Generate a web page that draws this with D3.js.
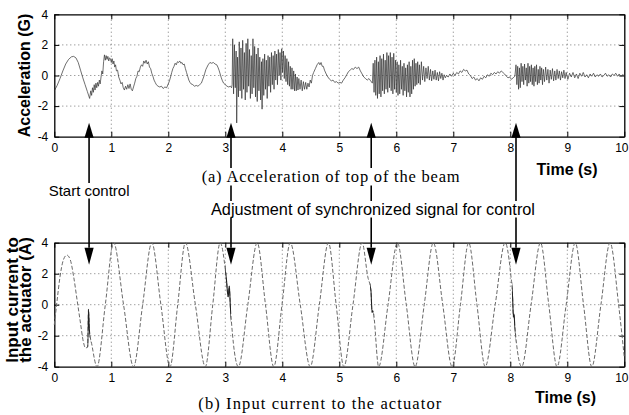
<!DOCTYPE html>
<html>
<head>
<meta charset="utf-8">
<script src="https://cdn.jsdelivr.net/npm/d3@7"></script>
<style>
  body { margin: 0; background: #fff; }
  svg { display: block; }
</style>
</head>
<body>
<svg id="chart" width="629" height="415"></svg>
<script>
// Tick values shared by both panels
const timeTicks = [0, 1, 2, 3, 4, 5, 6, 7, 8, 9, 10];
const valueTicks = [-4, -2, 0, 2, 4];
const gridTimes = [1, 2, 3, 4, 5, 6, 7, 8, 9];
const gridValues = [-2, 0, 2];

// Instants where control starts / the synchronized signal is adjusted (s)
const controlEvents = [0.61, 3.1, 5.56, 8.1];

// (a) Acceleration of the top of the beam: [time (s), acceleration (G)]
const acceleration = [
  [0,-1.0],[0.05,-0.65],[0.1,-0.2],[0.15,0.3],[0.2,0.75],[0.25,1.05],[0.3,1.22],[0.34,1.25],
  [0.38,1.15],[0.42,0.85],[0.46,0.35],[0.5,-0.15],[0.54,-0.6],[0.58,-1.05],[0.62,-1.5],
  [0.64,-1.0],[0.655,-1.3],[0.67,-0.8],[0.685,-1.1],[0.7,-0.6],[0.715,-0.95],[0.73,-0.5],
  [0.745,-0.8],[0.76,-0.45],[0.775,-0.7],[0.79,-0.3],[0.805,-0.55],[0.82,-0.1],[0.835,0.3],
  [0.85,0.1],[0.865,0.9],[0.88,1.35],[0.895,1.0],[0.91,1.3],[0.925,1.05],[0.94,1.25],
  [0.955,0.95],[0.97,1.15],[0.985,1.1],[1.0,0.85],[1.015,1.1],[1.03,0.75],[1.045,0.95],
  [1.06,0.55],[1.075,0.7],[1.09,0.3],[1.11,0.35],[1.13,-0.1],[1.15,-0.3],[1.17,-0.55],
  [1.19,-0.45],[1.21,-0.8],[1.23,-0.95],[1.25,-0.7],[1.27,-0.9],[1.29,-0.6],[1.31,-0.85],
  [1.33,-0.55],[1.35,-0.9],[1.37,-1.0],[1.39,-0.75],[1.41,-0.5],[1.43,-0.2],[1.45,-0.05],
  [1.47,0.3],[1.49,0.25],[1.51,0.55],[1.53,0.7],[1.55,0.6],[1.57,0.95],[1.59,0.8],[1.61,1.0],
  [1.63,0.75],[1.65,0.9],[1.67,0.55],[1.69,0.45],[1.71,0.15],[1.73,-0.05],[1.75,-0.3],
  [1.77,-0.45],[1.79,-0.6],[1.82,-0.7],[1.85,-0.75],[1.88,-0.7],[1.91,-0.85],[1.94,-0.75],
  [1.97,-0.8],[2.0,-0.55],[2.02,-0.35],[2.04,-0.1],[2.06,0.2],[2.08,0.45],[2.1,0.6],[2.12,0.8],
  [2.14,0.7],[2.16,0.9],[2.18,0.85],[2.2,0.95],[2.22,0.8],[2.24,0.85],[2.26,0.7],[2.28,0.75],
  [2.3,0.45],[2.32,0.2],[2.34,-0.05],[2.36,-0.3],[2.38,-0.45],[2.4,-0.55],[2.43,-0.6],
  [2.46,-0.7],[2.49,-0.65],[2.52,-0.7],[2.55,-0.6],[2.58,-0.5],[2.6,-0.3],[2.62,-0.1],
  [2.64,0.15],[2.66,0.4],[2.68,0.55],[2.7,0.7],[2.73,0.85],[2.76,0.8],[2.79,0.85],[2.82,0.75],
  [2.85,0.7],[2.87,0.55],[2.89,0.35],[2.91,0.1],[2.93,-0.15],[2.95,-0.35],[2.97,-0.5],
  [3.0,-0.6],[3.03,-0.7],[3.06,-0.75],[3.09,-0.7],[3.11,-0.8],
  [3.12,-0.6],[3.13,2.4],[3.145,-1.2],[3.16,2.0],[3.175,-0.8],[3.19,1.6],[3.2,-3.1],
  [3.215,1.2],[3.23,-1.4],[3.245,2.2],[3.26,-1.0],[3.275,1.8],[3.29,-1.5],[3.305,2.3],
  [3.32,-0.9],[3.335,1.5],[3.35,-1.6],[3.365,2.1],[3.38,-1.1],[3.395,2.4],[3.41,-0.7],
  [3.425,1.7],[3.44,-1.5],[3.455,1.3],[3.47,-1.2],[3.485,2.4],[3.5,-0.8],[3.515,1.9],
  [3.53,-1.4],[3.545,1.4],[3.56,-1.7],[3.575,1.8],[3.59,-1.0],[3.605,1.2],[3.62,-1.6],
  [3.635,0.9],[3.645,-2.2],[3.66,1.1],[3.675,-1.3],[3.69,1.4],[3.705,-0.9],[3.72,1.0],
  [3.735,-1.5],[3.75,1.3],[3.765,-0.7],[3.78,1.2],[3.795,-1.1],[3.81,1.5],[3.825,-0.6],
  [3.84,1.3],[3.855,-0.9],[3.87,1.6],[3.885,-0.3],[3.9,1.4],[3.915,-0.6],[3.93,1.7],
  [3.945,0.0],[3.96,1.5],[3.975,-0.3],[3.99,1.75],[4.005,0.2],[4.02,1.6],[4.035,-0.2],
  [4.05,1.3],[4.065,-0.4],[4.08,1.1],[4.095,-0.6],[4.11,0.9],[4.125,-0.7],[4.14,0.6],
  [4.155,-0.9],[4.17,0.5],[4.185,-0.9],[4.2,0.3],[4.215,-1.0],[4.23,0.1],[4.245,-1.0],
  [4.26,-0.1],[4.275,-0.95],[4.29,-0.2],[4.31,-0.9],[4.33,-0.3],[4.35,-1.0],[4.37,-0.4],
  [4.39,-0.9],[4.41,-0.45],[4.43,-0.9],[4.45,-0.5],[4.47,-0.75],[4.49,-0.3],[4.51,-0.5],
  [4.53,0.0],[4.55,0.2],[4.58,0.45],[4.61,0.7],[4.64,0.85],[4.66,0.7],[4.68,0.85],
  [4.7,0.6],[4.72,0.6],[4.74,0.35],[4.77,0.1],[4.8,-0.1],[4.83,-0.25],[4.86,-0.35],
  [4.89,-0.3],[4.92,-0.45],[4.95,-0.4],[4.98,-0.5],[5.01,-0.45],[5.04,-0.5],[5.07,-0.3],
  [5.1,-0.15],[5.13,0.05],[5.16,0.25],[5.19,0.35],[5.22,0.45],[5.25,0.4],[5.28,0.55],
  [5.31,0.45],[5.34,0.55],[5.37,0.3],[5.4,0.1],[5.43,-0.1],[5.46,-0.2],[5.49,-0.3],
  [5.52,-0.2],[5.55,-0.35],
  [5.58,-0.5],[5.595,0.8],[5.61,-1.1],[5.625,1.0],[5.64,-1.3],[5.655,1.2],[5.67,-1.5],
  [5.685,0.9],[5.7,-1.2],[5.715,1.3],[5.73,-1.4],[5.745,1.1],[5.76,-1.0],[5.775,1.4],
  [5.79,-1.2],[5.805,1.0],[5.82,-0.9],[5.835,1.5],[5.85,-1.1],[5.865,1.3],[5.88,-0.8],
  [5.895,1.5],[5.91,-1.0],[5.925,1.2],[5.94,-1.2],[5.955,1.45],[5.97,-0.9],[5.985,1.0],
  [6.0,-1.1],[6.015,0.9],[6.03,-1.3],[6.045,0.7],[6.06,-1.2],[6.075,1.0],[6.09,-0.9],
  [6.105,0.6],[6.12,-1.3],[6.135,0.8],[6.15,-1.0],[6.165,0.5],[6.18,-1.4],[6.195,0.7],
  [6.21,-1.1],[6.225,0.9],[6.24,-1.4],[6.255,0.6],[6.27,-1.2],[6.285,1.0],[6.3,-0.9],
  [6.315,1.1],[6.33,-0.7],[6.345,0.8],[6.36,-0.6],[6.375,0.9],[6.39,-0.5],[6.405,0.7],
  [6.42,-0.6],[6.44,0.9],[6.46,-0.3],[6.48,0.6],[6.5,-0.4],[6.52,0.5],[6.54,-0.2],[6.56,0.6],
  [6.58,-0.3],[6.6,0.4],[6.62,-0.35],[6.64,0.3],[6.66,-0.25],[6.68,0.35],[6.7,-0.3],
  [6.72,0.2],[6.74,-0.35],[6.76,0.25],[6.78,-0.2],[6.8,0.15],[6.82,-0.3],[6.84,0.05],
  [6.86,-0.15],
  [6.88,0.0],[6.91,-0.1],[6.94,0.1],[6.97,-0.05],[7.0,0.15],[7.03,0.0],[7.06,0.2],[7.09,0.1],
  [7.12,0.3],[7.15,0.2],[7.18,0.4],[7.21,0.3],[7.24,0.35],[7.27,0.1],[7.3,0.0],[7.33,-0.2],
  [7.36,-0.1],[7.39,-0.3],[7.42,-0.2],[7.45,-0.35],[7.48,-0.15],[7.51,-0.25],[7.54,-0.05],
  [7.57,-0.15],[7.6,0.05],[7.63,-0.05],[7.66,0.15],[7.69,0.05],[7.72,0.2],[7.75,0.1],
  [7.78,0.25],[7.81,0.15],[7.84,0.3],[7.87,0.2],[7.9,0.1],[7.93,-0.05],[7.96,-0.15],
  [7.99,-0.1],[8.02,-0.25],[8.05,-0.15],[8.08,-0.05],
  [8.1,0.7],[8.115,-0.6],[8.13,0.6],[8.145,-0.9],[8.16,0.5],[8.175,-0.8],[8.19,0.8],
  [8.205,-0.4],[8.22,0.6],[8.235,-0.6],[8.25,0.75],[8.265,-0.3],[8.28,0.5],[8.295,-0.7],
  [8.31,0.8],[8.325,-0.5],[8.34,0.6],[8.355,-0.4],[8.37,0.7],[8.385,-0.6],[8.4,0.5],
  [8.415,-0.7],[8.43,0.6],[8.445,-0.4],[8.46,0.7],[8.475,-0.6],[8.49,0.4],[8.505,-0.5],
  [8.52,0.6],[8.535,-0.3],[8.55,0.5],[8.565,-0.6],[8.58,0.4],[8.6,-0.4],[8.62,0.55],
  [8.64,-0.3],[8.66,0.4],[8.68,-0.5],[8.7,0.35],[8.72,-0.25],[8.74,0.45],[8.76,-0.35],
  [8.78,0.3],[8.8,-0.3],[8.82,0.4],[8.84,-0.2],[8.86,0.3],[8.88,-0.3],[8.9,0.25],[8.92,-0.15],
  [8.94,0.35],[8.96,-0.2],[8.98,0.2],
  [9.01,-0.25],[9.04,0.15],[9.07,-0.1],[9.1,0.2],[9.13,-0.15],[9.16,0.1],[9.19,-0.2],
  [9.22,0.15],[9.25,-0.05],[9.28,0.2],[9.31,-0.1],[9.34,0.05],[9.37,-0.15],[9.4,0.1],
  [9.43,-0.05],[9.46,0.15],[9.49,-0.1],[9.52,0.05],[9.55,-0.05],[9.58,0.1],[9.61,-0.1],
  [9.64,0.0],[9.67,0.15],[9.7,-0.05],[9.73,0.05],[9.76,-0.1],[9.79,0.1],[9.82,0.0],
  [9.85,0.15],[9.88,-0.05],[9.91,0.1],[9.94,-0.05],[9.97,0.05],[10.0,0.0]
];

// (b) Input current to the actuator: [time (s), current (A)]
const current = [
  [0,-1.3],[0.05,0.3],[0.1,1.8],[0.16,2.9],[0.22,3.2],[0.28,2.9],[0.34,1.8],[0.4,0.3],
  [0.46,-1.2],[0.51,-2.4],[0.55,-2.8],[0.585,-2.7],[0.6,-0.3],[0.615,-1.6],[0.66,-2.6],
  [0.75,-4],[0.895,0],[1.04,4],[1.215,0],[1.39,-4],[1.55,0],[1.71,4],[1.87,0],[2.03,-4],
  [2.165,0],[2.3,4],[2.475,0],[2.65,-4],[2.78,0],[2.91,4],[3.02,1.6],[3.05,0.5],[3.07,1.2],
  [3.09,-0.2],[3.23,-4],[3.395,0],[3.56,4],[3.705,0],[3.85,-4],[3.995,0],[4.14,4],[4.315,0],
  [4.49,-4],[4.65,0],[4.81,4],[4.945,0],[5.08,-4],[5.24,0],[5.4,4],[5.5,1.8],[5.555,0.9],
  [5.575,-0.5],[5.59,-0.4],[5.69,-4],[5.855,0],[6.02,4],[6.175,0],[6.33,-4],[6.49,0],
  [6.65,4],[6.815,0],[6.98,-4],[7.125,0],[7.27,4],[7.415,0],[7.56,-4],[7.735,0],[7.91,4],
  [8.0,2.2],[8.04,0.5],[8.055,-0.8],[8.065,-0.6],[8.08,-1.4],[8.2,-4],[8.365,0],[8.53,4],
  [8.675,0],[8.82,-4],[8.98,0],[9.14,4],[9.285,0],[9.43,-4],[9.59,0],[9.75,4],[9.9,0],
  [10.0,-3.4]
];

// Short intervals where the current signal jumps (drawn solid on top of the dashed trace)
const currentJumps = [[0.58, 0.63], [3.0, 3.1], [5.54, 5.6], [8.03, 8.09]];

const svg = d3.select('#chart');
const SANS = 'Liberation Sans, Arial, Helvetica, sans-serif';
const SERIF = 'Liberation Serif, Times New Roman, serif';
const W = +svg.attr('width');

const x = d3.scaleLinear().domain([0, 10]).range([54.3, 624.3]);
const yTop = d3.scaleLinear().domain([-4, 4]).range([136.7, 14.3]);
const yBot = d3.scaleLinear().domain([-4, 4]).range([366.7, 242.7]);

function drawFrame(y) {
  const g = svg.append('g');
  g.append('g').selectAll('line').data(gridTimes).join('line')
    .attr('x1', d => x(d)).attr('x2', d => x(d))
    .attr('y1', y(-4)).attr('y2', y(4))
    .attr('stroke', '#555').attr('stroke-width', 0.8).attr('stroke-dasharray', '1,3');
  g.append('g').selectAll('line').data(gridValues).join('line')
    .attr('x1', x(0)).attr('x2', x(10))
    .attr('y1', d => y(d)).attr('y2', d => y(d))
    .attr('stroke', '#555').attr('stroke-width', 0.8).attr('stroke-dasharray', '1,3');

  const fmt = d => String(d);
  const none = () => '';
  const put = (axis, tr) => {
    const a = g.append('g').attr('transform', tr).call(axis);
    a.attr('font-family', SANS).attr('font-size', 12);
    a.select('.domain').attr('stroke', '#000').attr('stroke-width', 1.3);
    a.selectAll('.tick line').attr('stroke', '#000').attr('stroke-width', 1);
    a.selectAll('.tick text').attr('fill', '#000');
    return a;
  };
  const bottom = put(d3.axisBottom(x).tickValues(timeTicks).tickFormat(fmt).tickSizeInner(-5).tickSizeOuter(0).tickPadding(7),
      `translate(0,${y(-4)})`);
  // keep the last time label inside the page edge
  bottom.selectAll('.tick text').filter(d => d === 10)
    .attr('text-anchor', 'end').attr('x', W - 1 - x(10));
  put(d3.axisTop(x).tickValues(timeTicks).tickFormat(none).tickSizeInner(-5).tickSizeOuter(0),
      `translate(0,${y(4)})`);
  put(d3.axisLeft(y).tickValues(valueTicks).tickFormat(fmt).tickSizeInner(-5).tickSizeOuter(0).tickPadding(6),
      `translate(${x(0)},0)`);
  put(d3.axisRight(y).tickValues(valueTicks).tickFormat(none).tickSizeInner(-5).tickSizeOuter(0),
      `translate(${x(10)},0)`);
  return g;
}

// ---- Panel (a): acceleration
drawFrame(yTop);
svg.append('path').datum(acceleration)
  .attr('d', d3.line().x(d => x(d[0])).y(d => yTop(d[1])))
  .attr('fill', 'none').attr('stroke', '#303030').attr('stroke-width', 0.7)
  .attr('stroke-linejoin', 'round');

// ---- Panel (b): actuator current
drawFrame(yBot);
const currentLine = d3.line().curve(d3.curveMonotoneX).x(d => x(d[0])).y(d => yBot(d[1]));
svg.append('path').datum(current)
  .attr('d', currentLine)
  .attr('fill', 'none').attr('stroke', '#6a6a6a').attr('stroke-width', 1)
  .attr('stroke-dasharray', '4,2');
const clip = svg.append('defs').append('clipPath').attr('id', 'jumps');
clip.selectAll('rect').data(currentJumps).join('rect')
  .attr('x', d => x(d[0])).attr('width', d => x(d[1]) - x(d[0]))
  .attr('y', yBot(4)).attr('height', yBot(-4) - yBot(4));
svg.append('path').datum(current)
  .attr('d', currentLine).attr('clip-path', 'url(#jumps)')
  .attr('fill', 'none').attr('stroke', '#222').attr('stroke-width', 1.1);

// ---- Axis titles
svg.append('text')
  .attr('transform', `translate(29.5,${(yTop(4) + yTop(-4)) / 2}) rotate(-90)`)
  .attr('text-anchor', 'middle').attr('font-family', SANS).attr('font-weight', 'bold')
  .attr('font-size', 16).text('Acceleration (G)');
const yLab = svg.append('text')
  .attr('transform', `translate(17.5,300) rotate(-90)`)
  .attr('text-anchor', 'middle').attr('font-family', SANS).attr('font-weight', 'bold')
  .attr('font-size', 17);
yLab.append('tspan').attr('x', 0).attr('y', 0).text('Input current to');
yLab.append('tspan').attr('x', 0).attr('y', 13.5).text('the actuator (A)');

svg.append('text').attr('x', 536.5).attr('y', 174.5)
  .attr('font-family', SANS).attr('font-weight', 'bold').attr('font-size', 16).text('Time (s)');
svg.append('text').attr('x', 535).attr('y', 402.5)
  .attr('font-family', SANS).attr('font-weight', 'bold').attr('font-size', 16).text('Time (s)');

// ---- Captions and annotations (these also cut the arrow shafts)
const notes = [];
notes.push(svg.append('text').attr('x', 201.7).attr('y', 182)
  .attr('font-family', SERIF).attr('font-size', 16.5)
  .attr('textLength', 258).attr('lengthAdjust', 'spacing')
  .text('(a) Acceleration of top of the beam'));
svg.append('text').attr('x', 198.3).attr('y', 408.5)
  .attr('font-family', SERIF).attr('font-size', 16.5)
  .attr('textLength', 243).attr('lengthAdjust', 'spacing')
  .text('(b) Input current to the actuator');
notes.push(svg.append('text').attr('x', x(controlEvents[0])).attr('y', 196)
  .attr('text-anchor', 'middle').attr('font-family', SANS).attr('font-size', 15)
  .text('Start control'));
notes.push(svg.append('text').attr('x', 211).attr('y', 215)
  .attr('font-family', SANS).attr('font-size', 16.3)
  .text('Adjustment of synchronized signal for control'));

const boxes = notes.map(n => n.node().getBBox());

// ---- Arrows: up into panel (a), down into panel (b)
const shaftTop = yTop(-4);
const shaftBottom = yBot(4) + 5;
controlEvents.forEach(t => {
  const X = x(t);
  const cuts = boxes
    .filter(b => X >= b.x - 1 && X <= b.x + b.width + 1)
    .map(b => [b.y + 1, b.y + b.height - 0.5])
    .sort((a, b) => a[0] - b[0]);
  let y0 = shaftTop;
  const segs = [];
  cuts.forEach(([c0, c1]) => {
    if (c0 > y0) segs.push([y0, c0]);
    y0 = Math.max(y0, c1);
  });
  if (y0 < shaftBottom) segs.push([y0, shaftBottom]);
  svg.append('g').selectAll('line').data(segs).join('line')
    .attr('x1', X).attr('x2', X).attr('y1', d => d[0]).attr('y2', d => d[1])
    .attr('stroke', '#000').attr('stroke-width', 1.6);
  svg.append('path')
    .attr('d', `M${X},${shaftTop - 14}L${X - 4.6},${shaftTop + 1}L${X + 4.6},${shaftTop + 1}Z`)
    .attr('fill', '#000');
  svg.append('path')
    .attr('d', `M${X},${shaftBottom + 17}L${X - 4.6},${shaftBottom}L${X + 4.6},${shaftBottom}Z`)
    .attr('fill', '#000');
});
</script>
</body>
</html>
